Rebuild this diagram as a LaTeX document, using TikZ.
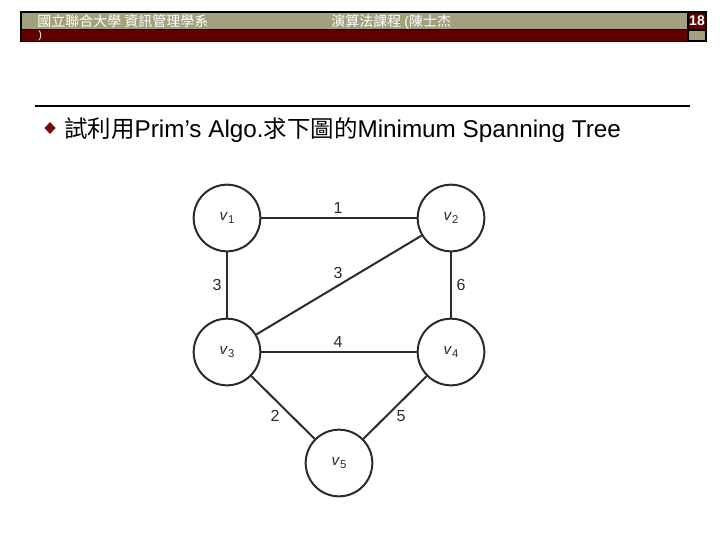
\documentclass[tikz,border=0pt]{standalone}
\usepackage{fontspec}
\setmainfont{Liberation Sans}
\newfontfamily\cjk{Noto Sans CJK TC}
\definecolor{olive}{HTML}{A3A17D}
\definecolor{darkred}{HTML}{600000}
\definecolor{bulletred}{HTML}{7A0A0A}
\definecolor{edgegray}{HTML}{2B2B2B}
\tikzset{
  vert/.style={circle, draw=edgegray, line width=1.5pt, minimum size=50pt, inner sep=0pt, font=\fontsize{11.5}{13}\selectfont, text=edgegray},
  edge/.style={draw=edgegray, line width=1.5pt},
  wlabel/.style={font=\fontsize{12}{14}\selectfont, text=edgegray, inner sep=0pt},
  hdr/.style={text=white, inner sep=0pt, anchor=base west}
}
\newcommand{\vlab}[1]{\textit{v}\raisebox{-0.45ex}{\fontsize{8.5}{9}\selectfont #1}}
\begin{document}
\begin{tikzpicture}[x=0.75pt,y=-0.75pt]
\useasboundingbox (0,0) rectangle (720,540);
% header
\fill[black] (20,11) rectangle (707,42);
\fill[olive] (22,13) rectangle (686.5,28.8);
\fill[darkred] (22,30.2) rectangle (686.5,40.5);
\fill[darkred] (688.5,13) rectangle (705,28.8);
\fill[olive] (689,31) rectangle (705,40);
\node[hdr, font={\cjk\fontsize{10.5}{12}\selectfont}] (h1) at (37,26) {國立聯合大學 資訊管理學系};
\node[hdr, font={\cjk\fontsize{10.5}{12}\selectfont}] (h2) at (331,26) {演算法課程 {\fontspec{Liberation Sans}(}陳士杰};
\node[hdr, font={\fontsize{8}{9}\selectfont}] (h3) at (38,38) {)};
\node[text=white, inner sep=0pt, font={\bfseries\fontsize{10.5}{12}\selectfont}] (pg) at (697,21) {18};
% rule
\draw[line width=1.5pt] (35,106) -- (690,106);
% bullet
\fill[bulletred] (50,122) -- (55.5,128) -- (50,134) -- (44.5,128) -- cycle;
\node[anchor=base west, inner sep=0pt, font={\fontsize{18.2}{21}\selectfont}] (title) at (64,137)
  {{\cjk\fontsize{17.6}{21}\selectfont 試利用}Prim’s Algo.{\cjk\fontsize{17.6}{21}\selectfont 求下圖的}Minimum Spanning Tree};
% graph
\node[vert] (v1) at (227,218) {\vlab{1}};
\node[vert] (v2) at (451,218) {\vlab{2}};
\node[vert] (v3) at (227,352) {\vlab{3}};
\node[vert] (v4) at (451,352) {\vlab{4}};
\node[vert] (v5) at (339,463) {\vlab{5}};
\draw[edge] (v1) -- (v2);
\draw[edge] (v1) -- (v3);
\draw[edge] (v3) -- (v2);
\draw[edge] (v2) -- (v4);
\draw[edge] (v3) -- (v4);
\draw[edge] (v3) -- (v5);
\draw[edge] (v4) -- (v5);
\node[wlabel] (l12) at (338,208) {1};
\node[wlabel] (l13) at (217,285) {3};
\node[wlabel] (l23) at (338,273) {3};
\node[wlabel] (l24) at (461,285) {6};
\node[wlabel] (l34) at (338,342) {4};
\node[wlabel] (l35) at (275,416) {2};
\node[wlabel] (l45) at (401,416) {5};
\end{tikzpicture}
\end{document}
